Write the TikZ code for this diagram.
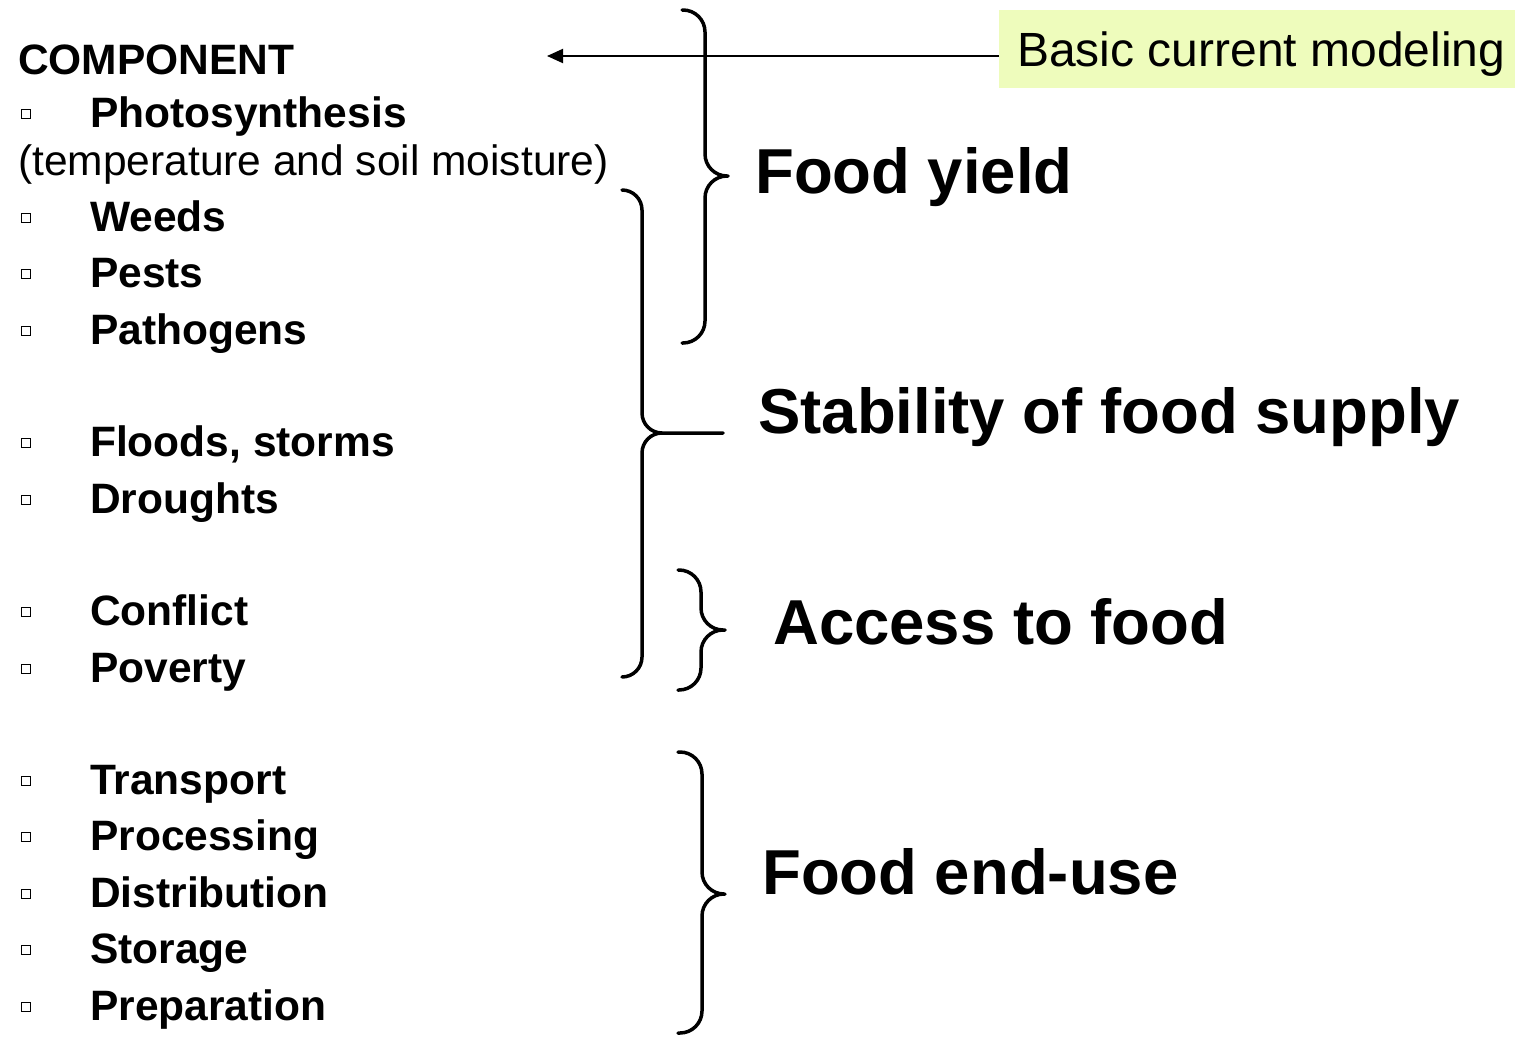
\documentclass[tikz,border=0pt]{standalone}
\usepackage{fontspec}
\setmainfont{Liberation Sans}
\usetikzlibrary{arrows.meta}
\definecolor{modelfill}{RGB}{238,252,188}
\tikzset{
  item/.style={anchor=base west, inner sep=0pt, font=\fontsize{42.5}{50}\selectfont\bfseries},
  bul/.style={draw, line width=1.8pt, minimum size=9pt, inner sep=0pt},
  big/.style={anchor=base west, inner sep=0pt, font=\fontsize{63.5}{70}\selectfont\bfseries},
  curly/.style={line width=3.5pt, rounded corners=22pt, line cap=round}
}
\begin{document}
\begin{tikzpicture}[x=1pt, y=-1pt]
    \useasboundingbox (0,0) rectangle (1515,1036);
    % left column
    \node[item] (comp) at (18,74) {COMPONENT};
    \node[bul] (b1) at (26,114) {};
    \node[item] (photo) at (90,127) {Photosynthesis};
    \node[anchor=base west, inner sep=0pt, font=\fontsize{42.5}{50}\selectfont] (temp) at (18,175) {(temperature and soil moisture)};
    \node[bul] (b2) at (26,218) {};
    \node[item] (weeds) at (90,231) {Weeds};
    \node[bul] (b3) at (26,274) {};
    \node[item] (pests) at (90,287) {Pests};
    \node[bul] (b4) at (26,331) {};
    \node[item] (patho) at (90,344) {Pathogens};
    \node[bul] (b5) at (26,443) {};
    \node[item] (floods) at (90,456) {Floods, storms};
    \node[bul] (b6) at (26,500) {};
    \node[item] (drought) at (90,513) {Droughts};
    \node[bul] (b7) at (26,612) {};
    \node[item] (conflict) at (90,625) {Conflict};
    \node[bul] (b8) at (26,669) {};
    \node[item] (poverty) at (90,682) {Poverty};
    \node[bul] (b9) at (26,781) {};
    \node[item] (transp) at (90,794) {Transport};
    \node[bul] (b10) at (26,837) {};
    \node[item] (proc) at (90,850) {Processing};
    \node[bul] (b11) at (26,894) {};
    \node[item] (distr) at (90,907) {Distribution};
    \node[bul] (b12) at (26,950) {};
    \node[item] (stor) at (90,963) {Storage};
    \node[bul] (b13) at (26,1007) {};
    \node[item] (prep) at (90,1020) {Preparation};
    % model box and arrow
    \node[fill=modelfill, anchor=north west, minimum width=516pt, minimum height=78pt,
          inner xsep=18pt, text height=44pt, text depth=10pt,
          font=\fontsize{48}{56}\selectfont] (model) at (999,10) {Basic current modeling};
    \coordinate (comparrow) at (547,56);
    \draw[line width=2pt, -{Triangle[length=16pt, width=14pt]}] (model.west |- comparrow) -- (comparrow);
    % braces
    \draw[curly] (682,10) -| (705,176) -- (728,176) (682,343) -| (705,176) -- (728,176);
    \draw[curly, rounded corners=20pt] (622,190) -| (642,433) -- (723,433) (622,677) -| (642,433) -- (662,433);
    \draw[curly] (678,570) -| (701,630) -- (725,630) (678,690) -| (701,630) -- (725,630);
    \draw[curly] (678,752) -| (702,894) -- (725,894) (678,1033) -| (702,894) -- (725,894);
    % outcomes
    \node[big] (yield) at (755,193) {Food yield};
    \node[big] (stab) at (758,433) {Stability of food supply};
    \node[big] (access) at (773,644) {Access to food};
    \node[big] (enduse) at (762,894) {Food end-use};
\end{tikzpicture}
\end{document}
